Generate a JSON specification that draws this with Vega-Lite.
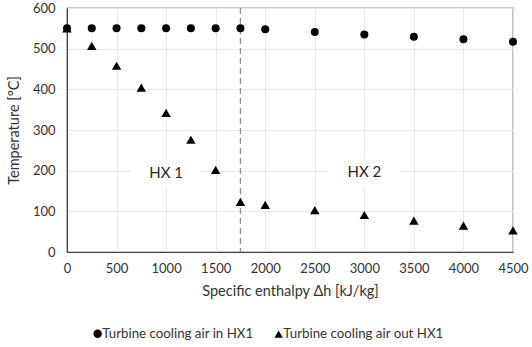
{
  "$schema": "https://vega.github.io/schema/vega-lite/v6.json",
  "width": 446,
  "height": 244,
  "autosize": {"type": "none"},
  "padding": {"left": 67, "top": 8, "right": 19, "bottom": 95},
  "background": "white",
  "config": {
    "font": "Lato",
    "view": {"stroke": "#262626", "strokeWidth": 1.2},
    "axis": {
      "labelFont": "Lato",
      "titleFont": "Lato",
      "labelFontSize": 13,
      "titleFontSize": 14.5,
      "labelColor": "#333333",
      "titleColor": "#333333",
      "titleFontWeight": "normal",
      "gridColor": "#e8e8e8",
      "gridWidth": 1,
      "ticks": false,
      "domainColor": "#404040"
    },
    "legend": {
      "title": null,
      "orient": "none",
      "direction": "horizontal",
      "legendX": 24,
      "legendY": 319,
      "labelFont": "Lato",
      "labelFontSize": 13.3,
      "labelColor": "#333333",
      "labelLimit": 300,
      "symbolFillColor": "black",
      "symbolStrokeColor": "black",
      "symbolSize": 70,
      "labelOffset": -2,
      "columnPadding": 17
    }
  },
  "datasets": {
    "temps": [
      {"h": 0, "T": 550, "series": "Turbine cooling air in HX1"},
      {"h": 250, "T": 550, "series": "Turbine cooling air in HX1"},
      {"h": 500, "T": 550, "series": "Turbine cooling air in HX1"},
      {"h": 750, "T": 550, "series": "Turbine cooling air in HX1"},
      {"h": 1000, "T": 550, "series": "Turbine cooling air in HX1"},
      {"h": 1250, "T": 550, "series": "Turbine cooling air in HX1"},
      {"h": 1500, "T": 550, "series": "Turbine cooling air in HX1"},
      {"h": 1750, "T": 550, "series": "Turbine cooling air in HX1"},
      {"h": 2000, "T": 548, "series": "Turbine cooling air in HX1"},
      {"h": 2500, "T": 541, "series": "Turbine cooling air in HX1"},
      {"h": 3000, "T": 535, "series": "Turbine cooling air in HX1"},
      {"h": 3500, "T": 529, "series": "Turbine cooling air in HX1"},
      {"h": 4000, "T": 523, "series": "Turbine cooling air in HX1"},
      {"h": 4500, "T": 517, "series": "Turbine cooling air in HX1"},
      {"h": 0, "T": 550, "series": "Turbine cooling air out HX1"},
      {"h": 250, "T": 507, "series": "Turbine cooling air out HX1"},
      {"h": 500, "T": 458, "series": "Turbine cooling air out HX1"},
      {"h": 750, "T": 404, "series": "Turbine cooling air out HX1"},
      {"h": 1000, "T": 342, "series": "Turbine cooling air out HX1"},
      {"h": 1250, "T": 276, "series": "Turbine cooling air out HX1"},
      {"h": 1500, "T": 202, "series": "Turbine cooling air out HX1"},
      {"h": 1750, "T": 123, "series": "Turbine cooling air out HX1"},
      {"h": 2000, "T": 116, "series": "Turbine cooling air out HX1"},
      {"h": 2500, "T": 103, "series": "Turbine cooling air out HX1"},
      {"h": 3000, "T": 91, "series": "Turbine cooling air out HX1"},
      {"h": 3500, "T": 77, "series": "Turbine cooling air out HX1"},
      {"h": 4000, "T": 65, "series": "Turbine cooling air out HX1"},
      {"h": 4500, "T": 53, "series": "Turbine cooling air out HX1"}
    ],
    "zones": [
      {"label": "HX 1", "xc": 1000, "yc": 195, "x1": 640, "x2": 1360, "y1": 160, "y2": 230},
      {"label": "HX 2", "xc": 3000, "yc": 197, "x1": 2640, "x2": 3360, "y1": 160, "y2": 230}
    ]
  },
  "encoding": {
    "x": {
      "field": "h",
      "type": "quantitative",
      "scale": {"domain": [0, 4500], "nice": false},
      "axis": {
        "title": "Specific enthalpy Δh [kJ/kg]",
        "values": [0, 500, 1000, 1500, 2000, 2500, 3000, 3500, 4000, 4500],
        "format": "d",
        "labelPadding": 10,
        "titlePadding": 9,
        "labelFlush": false
      }
    },
    "y": {
      "field": "T",
      "type": "quantitative",
      "scale": {"domain": [0, 600], "nice": false},
      "axis": {
        "title": "Temperature [°C]",
        "values": [0, 100, 200, 300, 400, 500, 600],
        "labelPadding": 12,
        "titlePadding": 11
      }
    }
  },
  "layer": [
    {
      "data": {"name": "zones"},
      "mark": {"type": "rect", "fill": "white", "stroke": null},
      "encoding": {
        "x": {"field": "x1", "type": "quantitative"},
        "x2": {"field": "x2"},
        "y": {"field": "y1", "type": "quantitative"},
        "y2": {"field": "y2"}
      }
    },
    {
      "data": {"values": [{"boundary": 1750}]},
      "mark": {"type": "rule", "color": "#8c8c8c", "strokeWidth": 1.3, "strokeDash": [6, 4]},
      "encoding": {
        "x": {"field": "boundary", "type": "quantitative"},
        "y": null
      }
    },
    {
      "data": {"name": "temps"},
      "transform": [{"filter": "datum.series === 'Turbine cooling air in HX1'"}],
      "mark": {"type": "point", "filled": true, "opacity": 1, "size": 64, "color": "black"},
      "encoding": {
        "shape": {
          "field": "series",
          "type": "nominal",
          "scale": {
            "domain": ["Turbine cooling air in HX1", "Turbine cooling air out HX1"],
            "range": ["circle", "triangle-up"]
          }
        }
      }
    },
    {
      "data": {"name": "temps"},
      "transform": [{"filter": "datum.series === 'Turbine cooling air out HX1'"}],
      "mark": {"type": "point", "filled": true, "opacity": 1, "size": 90, "color": "black"},
      "encoding": {
        "shape": {
          "field": "series",
          "type": "nominal",
          "scale": {
            "domain": ["Turbine cooling air in HX1", "Turbine cooling air out HX1"],
            "range": ["circle", "triangle-up"]
          }
        }
      }
    },
    {
      "data": {"name": "zones"},
      "mark": {"type": "text", "font": "Lato", "fontSize": 15, "color": "#262626"},
      "encoding": {
        "x": {"field": "xc", "type": "quantitative"},
        "y": {"field": "yc", "type": "quantitative"},
        "text": {"field": "label"}
      }
    }
  ]
}
